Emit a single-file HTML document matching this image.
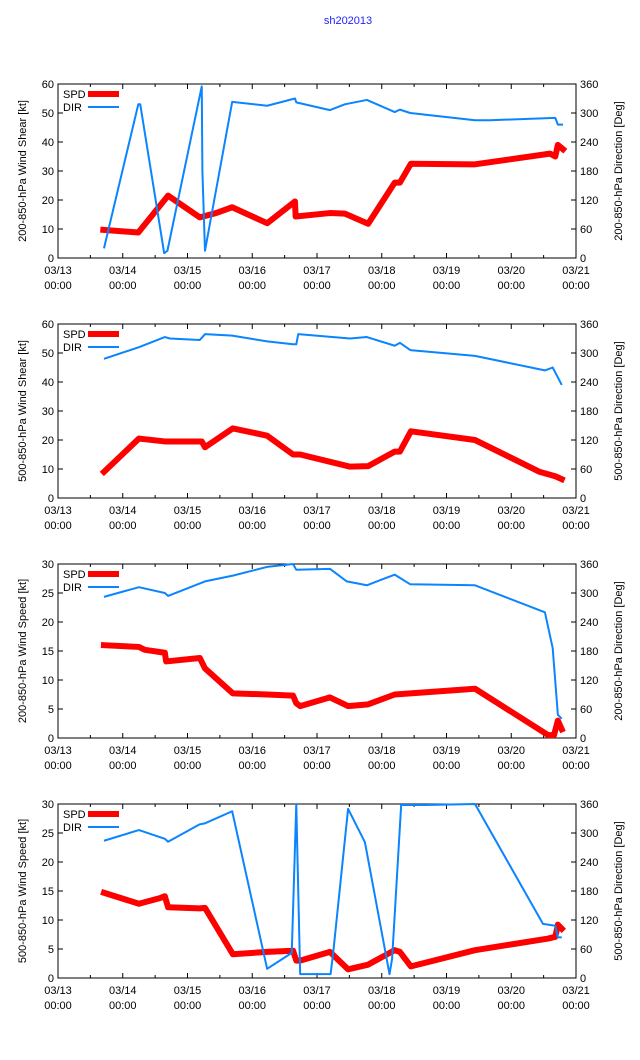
<!DOCTYPE html>
<html><head><meta charset="utf-8"><style>
body{margin:0;background:#fff;}
svg{display:block;font-family:"Liberation Sans",sans-serif;font-size:11px;}
</style></head><body>
<svg id="c" width="640" height="1060">
<text x="348" y="24" fill="#2222ff" text-anchor="middle" font-size="11">sh202013</text>
</svg>
<script>
// times in days from 03/13 00:00
const p1Time=[0.70,1.24,1.70,2.19,2.44,2.69,3.23,3.66,3.67,4.20,4.43,4.79,5.20,5.28,5.45,6.44,7.60,7.68,7.72,7.80];
const p1Spd=[9.7,8.8,21.5,14,15.5,17.5,12,19.5,14.3,15.5,15.3,11.8,26,26,32.5,32.3,36,35,39,37.5];
const p1DirTime=[0.71,1.24,1.27,1.64,1.69,2.22,2.23,2.27,2.69,3.23,3.66,3.68,4.20,4.43,4.77,5.20,5.28,5.44,6.44,6.67,7.68,7.72,7.80];
const p1Dir=[20,318,318,10,15,355,180,15,323,315,330,322,306,318,327,302,307,300,285,285,290,276,276];

const p2Time=[0.71,1.25,1.65,2.22,2.27,2.70,3.23,3.63,3.74,4.51,4.79,5.20,5.28,5.45,6.44,7.44,7.68,7.78];
const p2Spd=[9,20.5,19.5,19.5,17.5,24,21.5,15,15,10.8,11,16,16,23,20,9,7.5,6.5];
const p2DirTime=[0.71,1.25,1.65,1.73,2.19,2.27,2.69,3.23,3.63,3.68,3.71,4.51,4.77,5.20,5.28,5.44,6.44,7.52,7.64,7.71,7.78];
const p2Dir=[288,312,333,330,327,339,336,324,318,318,339,330,333,315,321,306,294,264,270,252,234];

const p3Time=[0.71,1.25,1.34,1.65,1.67,2.19,2.27,2.70,3.23,3.63,3.68,3.74,4.20,4.48,4.79,5.20,6.44,7.57,7.66,7.72,7.78];
const p3Spd=[16,15.7,15.2,14.7,13.2,13.8,12,7.7,7.5,7.3,6,5.5,7,5.5,5.8,7.5,8.5,0.5,0.5,3,1.5];
const p3DirTime=[0.71,1.25,1.65,1.70,2.27,2.70,3.23,3.63,3.68,4.20,4.46,4.77,5.20,5.44,6.44,7.52,7.64,7.72,7.78];
const p3Dir=[292,312,300,294,324,336,354,360,348,350,324,316,338,318,316,260,186,48,40];

const p4Time=[0.71,1.25,1.58,1.65,1.70,2.19,2.27,2.70,3.23,3.63,3.68,3.74,4.20,4.48,4.79,5.20,5.28,5.45,6.44,7.57,7.68,7.72,7.78];
const p4Spd=[14.7,12.8,13.8,14.1,12.2,12,12.1,4.1,4.5,4.7,3,3,4.5,1.5,2.3,4.8,4.5,2,4.8,6.8,7.1,9.2,8.5];
const p4DirTime=[0.71,1.25,1.65,1.70,2.19,2.27,2.69,3.23,3.61,3.68,3.70,3.74,4.21,4.25,4.48,4.74,5.12,5.16,5.30,5.67,6.44,7.49,7.68,7.72,7.78];
const p4Dir=[284,306,288,282,318,320,345,19,52,360,240,8,8,52,350,281,8,40,358,358,360,112,108,84,84];

const dayLabels=["03/13","03/14","03/15","03/16","03/17","03/18","03/19","03/20","03/21"];
const leftTicks1=[0,10,20,30,40,50,60];
const leftTicks2=[0,5,10,15,20,25,30];
const rightTicks=[0,60,120,180,240,300,360];

const panels=[
 {top:84,spdMax:60,lt:leftTicks1,ll:"200-850-hPa Wind Shear [kt]",rl:"200-850-hPa Direction [Deg]",t:p1Time,s:p1Spd,dt:p1DirTime,d:p1Dir},
 {top:324,spdMax:60,lt:leftTicks1,ll:"500-850-hPa Wind Shear [kt]",rl:"500-850-hPa Direction [Deg]",t:p2Time,s:p2Spd,dt:p2DirTime,d:p2Dir},
 {top:564,spdMax:30,lt:leftTicks2,ll:"200-850-hPa Wind Speed [kt]",rl:"200-850-hPa Direction [Deg]",t:p3Time,s:p3Spd,dt:p3DirTime,d:p3Dir},
 {top:804,spdMax:30,lt:leftTicks2,ll:"500-850-hPa Wind Speed [kt]",rl:"500-850-hPa Direction [Deg]",t:p4Time,s:p4Spd,dt:p4DirTime,d:p4Dir}
];
const L=58,R=576,H=174;
const svg=document.getElementById('c');
const NS='http://www.w3.org/2000/svg';
function mk(tag,attrs,parent){const e=document.createElementNS(NS,tag);for(const k in attrs)e.setAttribute(k,attrs[k]);(parent||svg).appendChild(e);return e;}
const xs=d=>L+d*(R-L)/8;

panels.forEach((p,i)=>{
 const g=mk('g',{});
 
 
 const B=p.top+H;
 const ys=v=>B-v/p.spdMax*H;
 const yd=v=>B-v/360*H;
 let tk='';
 for(let h=0;h<=16;h++){const x=xs(h/2),len=h%2?3:5;tk+=`M${x},${B}v-${len}M${x},${p.top}v${len}`;}
 p.lt.forEach(v=>{const y=ys(v);tk+=`M${L},${y}h5`;});
 rightTicks.forEach(v=>{const y=yd(v);tk+=`M${R},${y}h-5`;});
 const tp=mk('path',{d:tk,stroke:'#000','stroke-width':1,fill:'none'},g);
 
 
 const fr=mk('rect',{x:L,y:p.top,width:R-L,height:H,fill:'none',stroke:'#000','stroke-width':1},g);
 
 
 p.lt.forEach(v=>{const t=mk('text',{x:L-4,y:ys(v)+4,'text-anchor':'end'},g);t.textContent=v;
  
  });
 rightTicks.forEach(v=>{const t=mk('text',{x:R+4,y:yd(v)+4},g);t.textContent=v;
  
  });
 dayLabels.forEach((lab,k)=>{const x=xs(k);
  const t=mk('text',{x:x,y:B+16,'text-anchor':'middle'},g);t.textContent=lab;
  
  
  const t2=mk('text',{x:x,y:B+31,'text-anchor':'middle'},g);t2.textContent='00:00';
  
  });
 const yl=mk('text',{x:0,y:0,'text-anchor':'middle',transform:`translate(26,${p.top+H/2}) rotate(-90)`},g);yl.textContent=p.ll;
 
 
 const yr=mk('text',{x:0,y:0,'text-anchor':'middle',transform:`translate(622,${p.top+H/2}) rotate(-90)`},g);yr.textContent=p.rl;
 
 
 const sp=mk('polyline',{points:p.t.map((t,k)=>xs(t)+','+ys(p.s[k])).join(' '),fill:'none',stroke:'#ff0000','stroke-width':6,'stroke-linejoin':'round','stroke-linecap':'square'},g);
 
 
 const dp=mk('polyline',{points:p.dt.map((t,k)=>xs(t)+','+yd(p.d[k])).join(' '),fill:'none',stroke:'#0a84ff','stroke-width':2,'stroke-linejoin':'round'},g);
 
 
 const l1=mk('text',{x:63,y:p.top+14},g);l1.textContent='SPD';
 
 
 const lr=mk('line',{x1:88,x2:119,y1:p.top+10,y2:p.top+10,stroke:'#ff0000','stroke-width':6},g);
 
 
 const l2=mk('text',{x:63,y:p.top+27},g);l2.textContent='DIR';
 
 
 const lb=mk('line',{x1:88,x2:119,y1:p.top+23,y2:p.top+23,stroke:'#0a84ff','stroke-width':2},g);
 
 
});
</script>
</body></html>
